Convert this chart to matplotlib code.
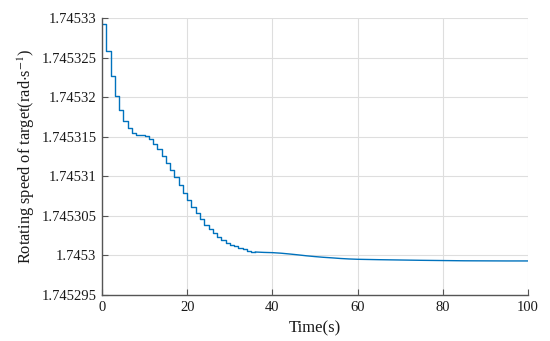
import numpy as np
import matplotlib
matplotlib.use("Agg")
import matplotlib.pyplot as plt

# time (s) and rotating speed (rad/s)
time_s = [0, 1, 2, 3, 4, 5, 6, 7, 8, 9, 10, 11, 12, 13, 14, 15, 16, 17, 18, 19,
          20, 21, 22, 23, 24, 25, 26, 27, 28, 29, 30, 31, 32, 33, 34, 35, 36, 38,
          40, 42, 44, 46, 48, 50, 52, 54, 56, 58, 60, 65, 70, 75, 80, 85, 90, 95, 100]
speed = [1.74532924, 1.74532587, 1.74532271, 1.74532018, 1.74531834, 1.74531695,
         1.74531606, 1.74531551, 1.74531525, 1.74531518, 1.74531507, 1.74531471,
         1.74531414, 1.74531345, 1.74531256, 1.74531168, 1.74531079, 1.74530985,
         1.74530890, 1.74530789, 1.74530700, 1.74530618, 1.74530536, 1.74530454,
         1.74530385, 1.74530328, 1.74530278, 1.74530233, 1.74530195, 1.74530161,
         1.74530134, 1.74530113, 1.74530094, 1.74530075, 1.74530059, 1.74530048,
         1.74530043, 1.74530038, 1.74530035, 1.74530028, 1.74530018, 1.74530007,
         1.74529995, 1.74529985, 1.74529976, 1.74529969, 1.74529961, 1.74529955,
         1.74529951, 1.74529946, 1.74529942, 1.74529938, 1.74529935, 1.74529932,
         1.74529931, 1.74529930, 1.74529930]

x_ticks = [0, 20, 40, 60, 80, 100]
y_ticks = [1.745295, 1.7453, 1.745305, 1.74531, 1.745315, 1.74532, 1.745325, 1.74533]
y_tick_labels = ["1.745295", "1.7453", "1.745305", "1.74531", "1.745315",
                 "1.74532", "1.745325", "1.74533"]

plt.rcParams["font.family"] = ["Liberation Serif", "DejaVu Serif"]
plt.rcParams["mathtext.fontset"] = "stix"

fig = plt.figure(figsize=(5.5, 3.41), dpi=100)
ax = fig.add_axes([0.1855, 0.135, 0.7745, 0.812])

# stepped early part, smooth tail once the steps get tiny
n_step = time_s.index(36)
ax.plot(time_s[:n_step + 1], speed[:n_step + 1], color="#0072BD", lw=1.0,
        drawstyle="steps-post")
ax.plot(time_s[n_step:], speed[n_step:], color="#0072BD", lw=1.0)

ax.set_xlim(0, 100)
ax.set_ylim(1.745295, 1.74533)
ax.set_xticks(x_ticks)
ax.set_yticks(y_ticks)
ax.set_yticklabels(y_tick_labels)
ax.grid(True, color="#dedede", lw=0.8)
ax.set_axisbelow(True)

for side in ("top", "right"):
    ax.spines[side].set_visible(False)
for side in ("left", "bottom"):
    ax.spines[side].set_color("#555555")
    ax.spines[side].set_linewidth(1.0)

ax.tick_params(direction="in", length=4, width=0.8, colors="#555555",
               labelcolor="#1a1a1a", labelsize=10.5, pad=4)

ax.set_xlabel("Time(s)", fontsize=12, color="#1a1a1a", labelpad=5)
ax.set_ylabel(r"Rotating speed of target(rad$\cdot$s$^{-1}$)", fontsize=11.8,
              color="#1a1a1a", labelpad=3)

fig.savefig("out.png", dpi=100)
